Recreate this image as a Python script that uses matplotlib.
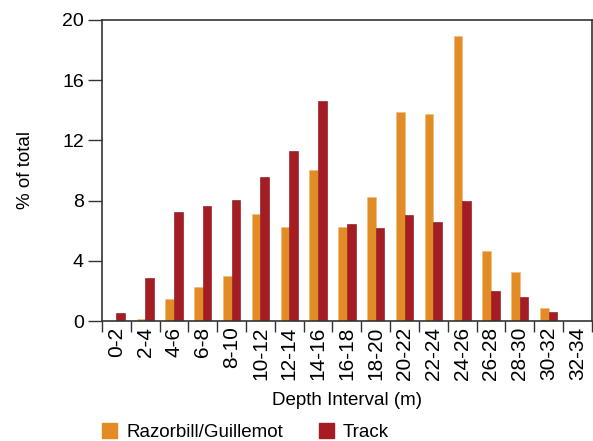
import numpy as np
import matplotlib
matplotlib.use("Agg")
import matplotlib.pyplot as plt
from matplotlib.patches import Patch

plt.rcParams['font.family'] = ['Liberation Sans', 'DejaVu Sans']

### data
intervals = ["0-2", "2-4", "4-6", "6-8", "8-10", "10-12", "12-14", "14-16", "16-18",
             "18-20", "20-22", "22-24", "24-26", "26-28", "28-30", "30-32", "32-34"]
razorbill = [0, 0.15, 1.46, 2.26, 3.0, 7.12, 6.24, 10.0, 6.24,
             8.25, 13.9, 13.78, 18.93, 4.66, 3.26, 0.87, 0]
track = [0.51, 2.84, 7.26, 7.64, 8.06, 9.57, 11.32, 14.58, 6.46,
         6.17, 7.04, 6.59, 7.99, 1.98, 1.62, 0.6, 0]

orange = "#E38B25"
red = "#A51C22"

fig = plt.figure(figsize=(5.93, 4.41), dpi=100)
ax = fig.add_axes([0.172, 0.272, 0.826, 0.683])

x = np.arange(len(intervals))
w = 0.3
ax.bar(x - w/2, razorbill, w, color=orange, edgecolor="#F0B878", linewidth=0.4)
ax.bar(x + w/2, track, w, color=red, edgecolor="#7A1015", linewidth=0.4)

ax.set_xlim(-0.5, len(intervals) - 0.5)
ax.set_ylim(0, 20)
ax.set_yticks([0, 4, 8, 12, 16, 20])
ax.set_xticks(x)
ax.set_xticklabels(intervals, rotation=90)
ax.set_xticks(np.arange(len(intervals) + 1) - 0.5, minor=True)
ax.tick_params(axis="x", which="major", length=0, labelsize=15, pad=4)
ax.tick_params(axis="x", which="minor", length=8, width=1, color="#333333", direction="out")
ax.tick_params(axis="y", length=10, width=1, color="#333333", labelsize=14, pad=3)

for s in ax.spines.values():
    s.set_color("#333333")
    s.set_linewidth(1.2)

ax.set_ylabel("% of total", fontsize=13.5, labelpad=20)
ax.set_xlabel("Depth Interval (m)", fontsize=13.5, labelpad=9)

handles = [Patch(color=orange, label="Razorbill/Guillemot"),
           Patch(color=red, label="Track")]
fig.legend(handles=handles, loc="lower left", bbox_to_anchor=(0.172, 0.0), ncol=2,
           frameon=False, fontsize=13.5, handlelength=0.8, handleheight=0.8,
           columnspacing=1.9, handletextpad=0.5, borderpad=0, borderaxespad=0)

fig.savefig("out.png", dpi=100)
